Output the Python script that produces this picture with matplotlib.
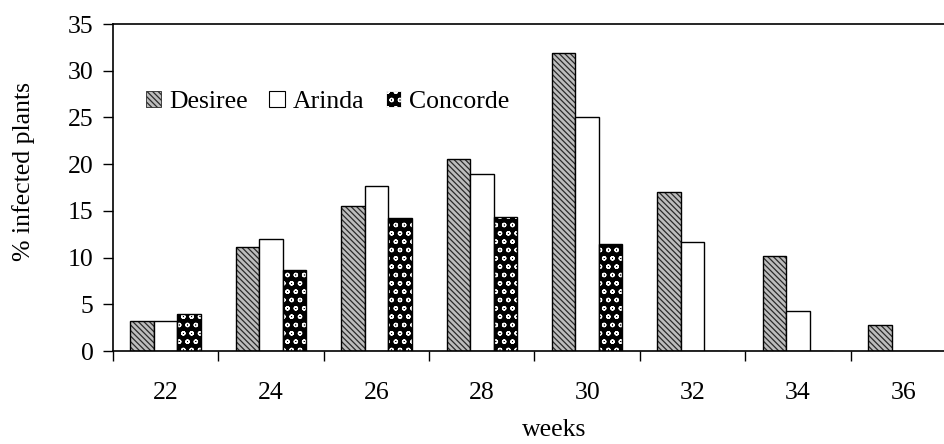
import matplotlib
matplotlib.use("Agg")
import matplotlib.pyplot as plt
import numpy as np
from matplotlib.patches import Patch

weeks = ["22", "24", "26", "28", "30", "32", "34", "36"]
desiree = [3.2, 11.1, 15.5, 20.6, 31.9, 17.0, 10.2, 2.8]
arinda = [3.2, 12.0, 17.7, 18.9, 25.0, 11.7, 4.3, 0.0]
concorde = [4.0, 8.7, 14.2, 14.3, 11.5, 0.0, 0.0, 0.0]
series_names = ["Desiree", "Arinda", "Concorde"]
y_ticks = [0, 5, 10, 15, 20, 25, 30, 35]

plt.rcParams['font.family'] = ['Liberation Serif', 'DejaVu Serif']
plt.rcParams['hatch.linewidth'] = 0.9
FS = 18.5

fig = plt.figure(figsize=(9.45, 4.44), dpi=100)
ax = fig.add_axes([113/945, 1-351/444, (956-113)/945, (351-24)/444])

x = np.arange(len(weeks))
w = 0.223

d_face, d_hatch, d_pat = '#bdbdbd', '#2a2a2a', '\\\\\\\\\\\\'
c_face, c_hatch, c_pat = '#000000', '#ffffff', 'oo'

# Desiree: grey diagonal hatch
ax.bar(x - w, desiree, w, facecolor=d_face, edgecolor=d_hatch, hatch=d_pat, linewidth=0)
ax.bar(x - w, desiree, w, fill=False, edgecolor='black', linewidth=1.0)
# Arinda: white
ax.bar(x, arinda, w, facecolor='white', edgecolor='black', linewidth=1.0)
# Concorde: dark with white circles
ax.bar(x + w, concorde, w, facecolor=c_face, edgecolor=c_hatch, hatch=c_pat, linewidth=0)
ax.bar(x + w, concorde, w, fill=False, edgecolor='black', linewidth=1.0)

ax.set_xlim(-0.5, len(weeks) - 0.5)
ax.set_ylim(0, 35)
ax.set_yticks(y_ticks)
ax.set_yticklabels([str(t) for t in y_ticks])

ax.set_xticks(np.arange(len(weeks) + 1) - 0.5)
ax.set_xticklabels([])
ax.set_xticks(x, minor=True)
ax.set_xticklabels(weeks, minor=True)
ax.tick_params(axis='x', which='major', direction='out', length=7, width=1)
ax.tick_params(axis='x', which='minor', length=0, pad=22, labelsize=FS)
ax.tick_params(axis='y', direction='out', length=7, width=1, labelsize=FS, pad=7)

for s in ['left', 'bottom', 'top']:
    ax.spines[s].set_linewidth(1.2)
ax.spines['right'].set_visible(False)

ax.set_ylabel('% infected plants', fontsize=FS)
ax.yaxis.set_label_coords((24 - 113) / 843, (351 - 171) / 327)
ax.set_xlabel('weeks', fontsize=FS)
ax.xaxis.set_label_coords((554 - 113) / 843, (351 - 430) / 327)
ax.xaxis.label.set_va('center')
ax.yaxis.label.set_va('center')

handles = [
    Patch(facecolor=d_face, edgecolor=d_hatch, hatch=d_pat, linewidth=0.6),
    Patch(facecolor='white', edgecolor='black', linewidth=0.8),
    Patch(facecolor=c_face, edgecolor=c_hatch, hatch=c_pat, linewidth=0.6),
]
leg = ax.legend(handles, series_names, ncol=3, loc='center left', bbox_to_anchor=(0.039, 0.762),
                frameon=False, fontsize=FS, handlelength=0.6, handleheight=0.6,
                handletextpad=0.3, columnspacing=0.85, borderaxespad=0, borderpad=0)

fig.savefig('out.png', dpi=100)
